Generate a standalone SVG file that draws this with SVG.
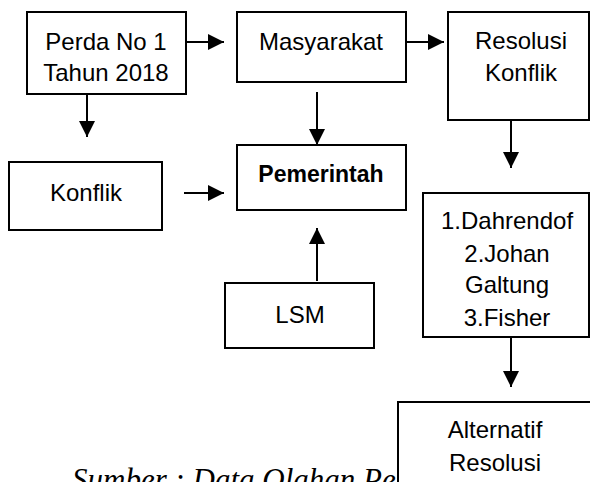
<svg xmlns="http://www.w3.org/2000/svg" width="590" height="482" viewBox="0 0 590 482">
<style>
.box{fill:#fff;stroke:#000;stroke-width:2}
.t{font-family:"Liberation Sans",Arial,sans-serif;font-size:24px;fill:#000;text-anchor:middle}
.b{font-weight:bold;font-size:23px}
.con line{stroke:#000;stroke-width:2;marker-end:url(#ah)}
.cap{font-family:"Liberation Serif","Times New Roman",serif;font-style:italic;font-size:31px;fill:#000}
</style>
<defs>
<marker id="ah" markerUnits="userSpaceOnUse" markerWidth="16" markerHeight="16" viewBox="0 0 16 16" refX="16" refY="8" orient="auto">
<path d="M0,0 L16,8 L0,16 z" fill="#000"/>
</marker>
</defs>
<rect width="590" height="482" fill="#fff"/>
<text class="cap" x="72" y="490">Sumber : Data Olahan Pe</text>
<g id="perda"><rect class="box" x="27" y="12" width="159" height="82"/><text class="t" x="106" y="50">Perda No 1</text><text class="t" x="106" y="81">Tahun 2018</text></g>
<g id="masyarakat"><rect class="box" x="237" y="12" width="169" height="70"/><text class="t" x="321" y="50">Masyarakat</text></g>
<g id="resolusi"><rect class="box" x="448" y="12" width="141" height="108"/><text class="t" x="521" y="49">Resolusi</text><text class="t" x="521" y="81">Konflik</text></g>
<g id="konflik"><rect class="box" x="9" y="162" width="153" height="68"/><text class="t" x="86" y="201">Konflik</text></g>
<g id="pemerintah"><rect class="box" x="237" y="145" width="169" height="65"/><text class="t b" x="321" y="182">Pemerintah</text></g>
<g id="lsm"><rect class="box" x="225" y="283" width="149" height="65"/><text class="t" x="300" y="323">LSM</text></g>
<g id="teori"><rect class="box" x="423" y="193" width="166" height="144"/><text class="t" x="507" y="229">1.Dahrendof</text><text class="t" x="507" y="262">2.Johan</text><text class="t" x="507" y="293">Galtung</text><text class="t" x="507" y="326">3.Fisher</text></g>
<g id="alternatif"><rect class="box" x="398" y="402" width="200" height="100"/><text class="t" x="495" y="438">Alternatif</text><text class="t" x="495" y="471">Resolusi</text></g>
<g id="connectors" class="con">
<line x1="186" y1="42" x2="224" y2="42"/>
<line x1="406" y1="42" x2="444" y2="42"/>
<line x1="87" y1="95" x2="87" y2="137"/>
<line x1="317" y1="92" x2="317" y2="145"/>
<line x1="184" y1="193" x2="224" y2="193"/>
<line x1="317" y1="281" x2="317" y2="228"/>
<line x1="511" y1="120" x2="511" y2="168"/>
<line x1="511" y1="337" x2="511" y2="387"/>
</g>
</svg>
